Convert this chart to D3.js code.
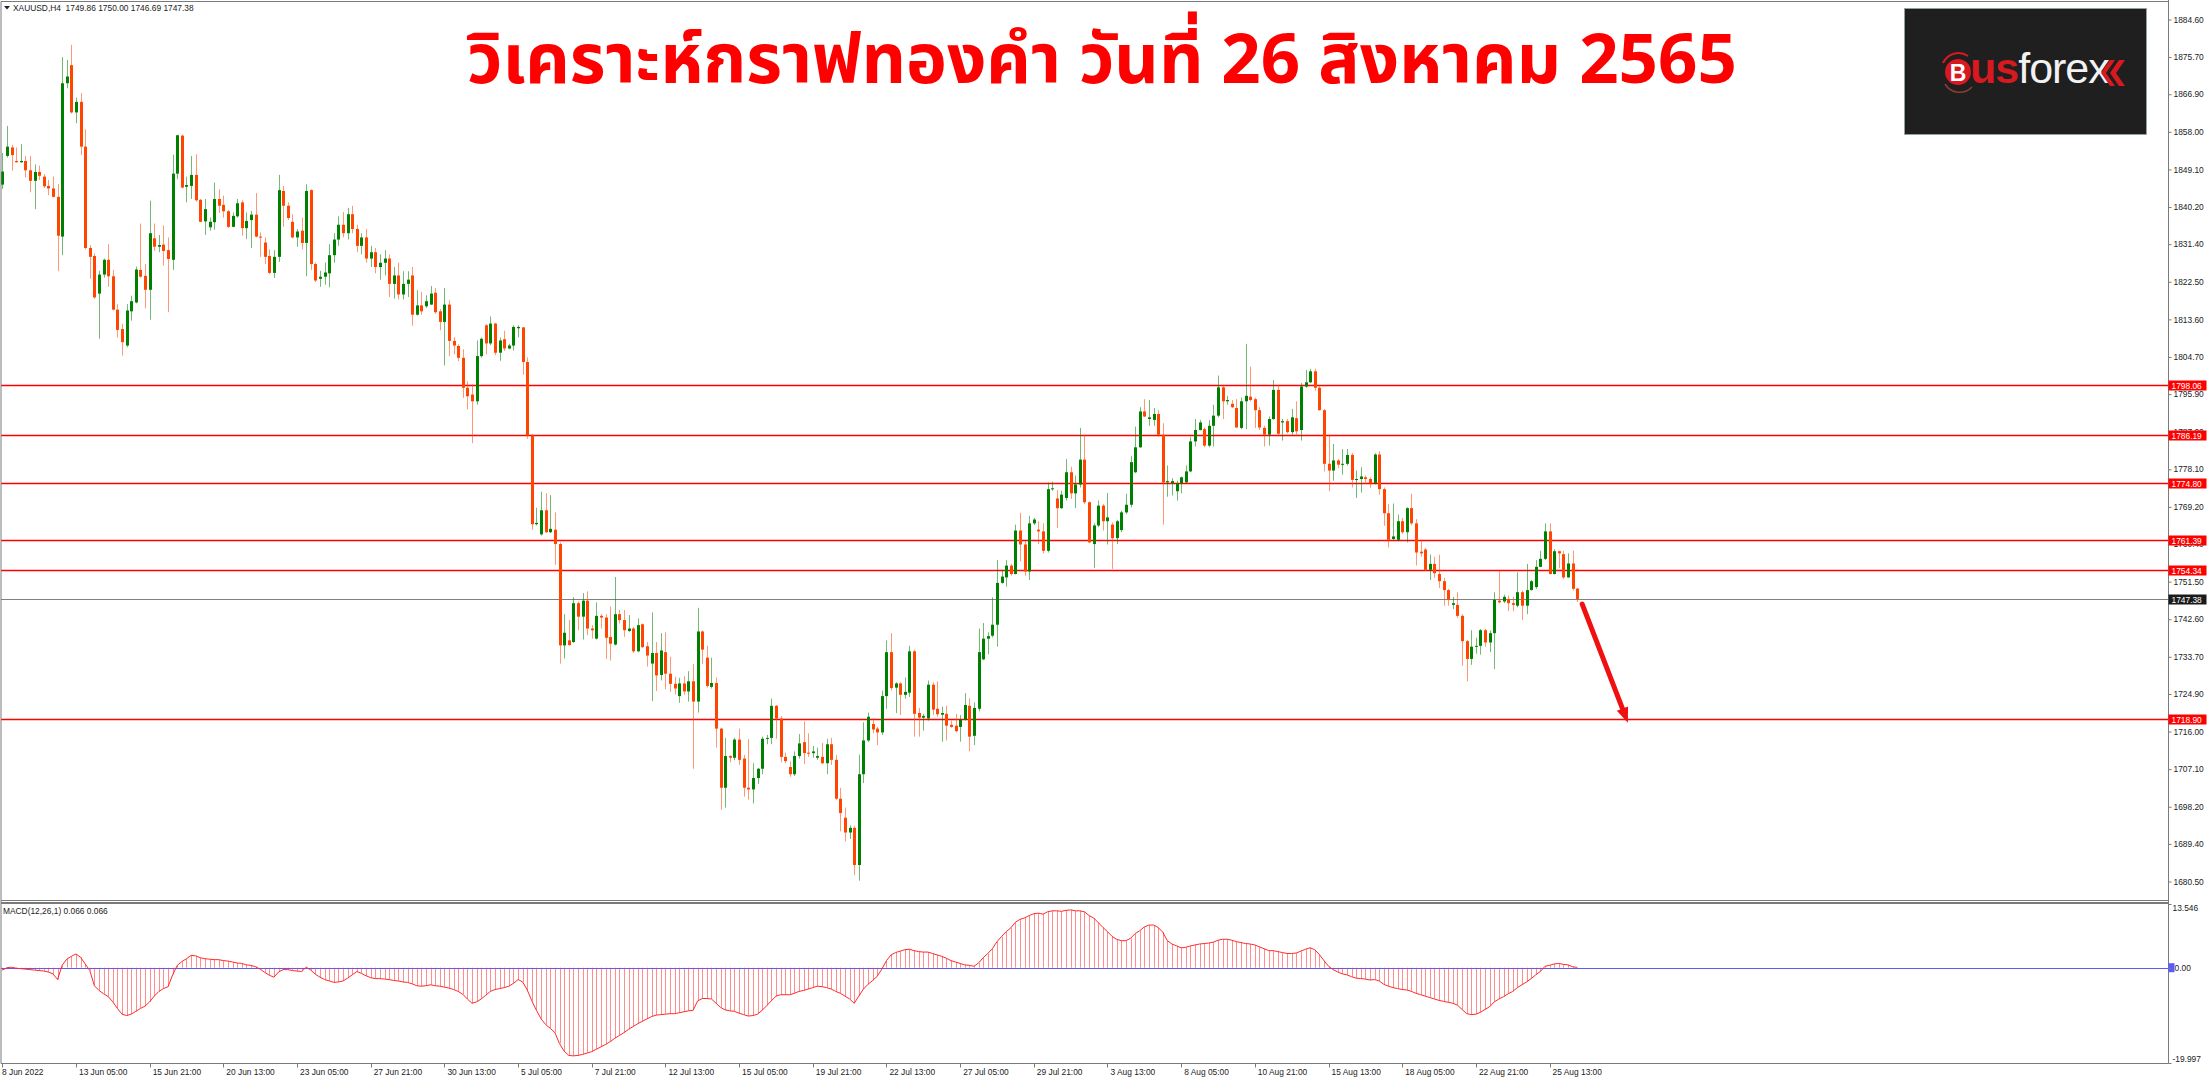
<!DOCTYPE html>
<html><head><meta charset="utf-8">
<script src="https://cdn.jsdelivr.net/npm/d3@7"></script>
<style>html,body{margin:0;padding:0;background:#fff;overflow:hidden}</style>
</head><body>
<svg id="chart" width="2209" height="1080" xmlns="http://www.w3.org/2000/svg"></svg>
<script>
// ---------- DATA ----------
const symbolHeader = "XAUUSD,H4  1749.86 1750.00 1746.69 1747.38";
const titleText = "วิเคราะห์กราฟทองคำ วันที่ 26 สิงหาคม 2565";
const macdHeader = "MACD(12,26,1) 0.066 0.066";

// H4 candles [open, high, low, close], 8 Jun 2022 13:00 .. 26 Aug 2022
const candles = [
[1845.5,1853.0,1844.5,1848.6],[1852.3,1859.4,1851.9,1854.5],[1854.3,1854.9,1848.8,1852.5],[1851.1,1854.3,1850.7,1850.8],
[1850.8,1855.1,1850.7,1851.1],[1851.1,1852.3,1847.2,1848.9],[1848.9,1852.3,1843.7,1846.4],[1846.4,1850.3,1839.7,1848.5],
[1848.5,1850.0,1846.6,1847.6],[1847.4,1848.0,1844.7,1845.1],[1845.2,1846.6,1843.0,1844.6],[1844.6,1847.4,1842.5,1842.6],
[1842.6,1845.6,1825.0,1833.4],[1833.2,1875.7,1828.8,1869.5],[1869.5,1875.0,1868.3,1871.1],[1873.8,1878.6,1862.3,1862.6],
[1862.6,1866.1,1860.0,1865.1],[1865.1,1867.2,1852.5,1854.5],[1854.5,1858.6,1830.2,1830.5],[1830.5,1831.2,1823.2,1828.4],
[1828.6,1829.2,1818.5,1818.8],[1819.7,1825.1,1809.0,1824.2],[1824.2,1828.0,1823.5,1827.7],[1827.7,1831.4,1821.3,1823.8],
[1823.8,1825.3,1815.7,1815.9],[1815.9,1817.2,1809.3,1811.1],[1811.3,1812.5,1805.0,1808.2],[1807.4,1817.2,1807.0,1815.7],
[1815.5,1819.2,1813.3,1817.9],[1817.6,1826.1,1817.4,1825.4],[1825.3,1836.3,1823.5,1823.7],[1823.9,1826.7,1816.2,1820.6],
[1820.6,1841.7,1813.5,1834.0],[1832.8,1836.3,1829.8,1830.8],[1830.8,1833.6,1829.5,1831.2],[1831.3,1835.8,1826.3,1829.8],
[1830.0,1833.0,1815.3,1827.9],[1827.7,1852.6,1825.3,1848.1],[1848.1,1857.3,1846.8,1857.2],[1857.1,1857.4,1844.6,1844.8],
[1845.0,1847.4,1841.3,1845.4],[1845.2,1852.3,1842.1,1847.8],[1847.8,1852.7,1841.5,1841.8],[1841.9,1842.1,1836.6,1836.7],
[1836.8,1842.1,1833.6,1839.7],[1835.4,1837.7,1834.6,1836.7],[1836.6,1846.0,1834.8,1842.1],[1842.1,1844.4,1838.8,1840.5],
[1840.7,1842.9,1837.7,1839.2],[1839.2,1839.5,1835.2,1835.5],[1835.5,1838.9,1835.4,1838.1],[1838.0,1842.1,1837.7,1841.1],
[1841.3,1841.8,1833.4,1835.2],[1835.2,1838.9,1832.6,1836.9],[1837.1,1839.3,1830.5,1838.4],[1838.4,1843.5,1833.0,1833.2],
[1833.2,1834.2,1828.4,1833.0],[1831.8,1833.0,1826.7,1828.4],[1828.6,1830.2,1824.3,1824.6],[1824.6,1830.0,1823.4,1828.4],
[1828.4,1847.8,1827.2,1844.2],[1844.0,1845.2,1835.5,1840.5],[1840.5,1841.3,1837.1,1837.6],[1836.7,1838.5,1832.8,1833.0],
[1833.0,1835.0,1830.8,1834.4],[1834.6,1837.7,1830.2,1831.7],[1831.7,1845.6,1823.8,1844.0],[1844.2,1844.4,1825.3,1826.7],
[1826.7,1827.1,1822.4,1822.8],[1823.2,1825.1,1821.3,1823.7],[1823.7,1827.1,1821.8,1824.7],[1824.5,1831.4,1821.2,1828.8],
[1828.8,1834.0,1827.0,1832.5],[1832.5,1838.0,1831.0,1836.0],[1836.0,1839.0,1833.0,1834.0],[1834.0,1840.0,1832.5,1838.5],
[1838.5,1840.5,1834.0,1835.0],[1835.0,1836.0,1829.5,1831.0],[1831.0,1834.0,1829.0,1833.0],[1833.0,1835.0,1827.0,1828.0],
[1828.0,1831.0,1826.0,1829.5],[1829.5,1830.5,1824.5,1826.0],[1826.0,1829.0,1823.0,1827.0],[1827.0,1830.0,1824.0,1828.0],
[1828.0,1829.0,1818.9,1822.0],[1822.0,1826.0,1818.5,1824.0],[1824.0,1827.0,1818.3,1819.5],[1819.5,1825.0,1818.3,1822.0],
[1822.0,1825.0,1818.9,1823.0],[1824.0,1826.0,1812.1,1814.7],[1814.7,1820.5,1814.5,1816.9],[1816.9,1820.1,1814.7,1815.5],
[1816.7,1819.3,1816.3,1817.9],[1817.1,1821.5,1817.0,1819.7],[1819.9,1821.0,1814.9,1815.3],[1815.5,1816.1,1811.0,1813.0],
[1813.0,1821.0,1802.7,1817.1],[1817.1,1818.1,1804.9,1808.5],[1808.5,1809.4,1805.3,1807.4],[1807.3,1807.7,1803.7,1804.5],
[1804.5,1806.5,1795.0,1797.4],[1797.4,1798.9,1792.3,1795.4],[1795.8,1798.2,1784.3,1794.2],[1794.2,1808.6,1793.4,1804.9],
[1804.9,1809.3,1804.5,1809.0],[1812.2,1812.5,1805.3,1807.9],[1807.9,1814.3,1807.5,1812.6],[1812.6,1812.8,1805.1,1805.7],
[1805.7,1809.3,1803.8,1808.6],[1808.9,1810.9,1806.1,1806.7],[1806.7,1807.8,1806.5,1807.4],[1807.4,1812.2,1806.2,1811.8],
[1811.5,1812.2,1809.3,1811.8],[1811.7,1811.8,1800.5,1803.5],[1803.5,1804.6,1785.3,1786.1],[1786.1,1786.5,1763.8,1765.1],
[1765.1,1769.0,1764.8,1765.4],[1762.7,1772.8,1762.4,1768.4],[1768.4,1772.4,1763.0,1763.2],[1763.2,1772.0,1763.0,1764.0],
[1763.8,1767.9,1755.5,1760.4],[1760.4,1760.8,1732.1,1736.4],[1736.4,1743.8,1733.3,1739.4],[1737.6,1742.4,1736.3,1736.5],
[1737.2,1747.8,1737.0,1746.4],[1746.4,1746.8,1740.0,1743.2],[1743.2,1748.8,1737.8,1747.0],[1747.0,1749.2,1738.8,1740.4],
[1740.4,1741.2,1738.0,1740.0],[1738.0,1746.6,1737.8,1743.4],[1743.4,1743.8,1740.4,1743.0],[1743.0,1743.8,1733.2,1738.2],
[1738.4,1745.6,1732.8,1736.8],[1736.6,1752.6,1736.4,1743.8],[1743.8,1744.8,1741.6,1742.4],[1742.4,1744.8,1738.4,1740.0],
[1739.8,1743.6,1739.6,1740.4],[1740.4,1740.8,1734.6,1735.0],[1735.0,1742.8,1734.8,1741.2],[1741.4,1741.6,1735.8,1736.0],
[1736.2,1737.2,1731.4,1734.0],[1732.1,1744.2,1723.2,1734.6],[1734.6,1737.2,1725.6,1729.3],[1729.4,1739.3,1728.1,1735.2],
[1734.8,1739.5,1726.0,1729.7],[1729.7,1733.7,1725.4,1727.3],[1727.3,1729.0,1724.8,1726.2],[1724.4,1728.7,1722.8,1727.4],
[1727.4,1729.1,1724.7,1725.5],[1725.5,1730.3,1723.1,1727.9],[1727.9,1732.0,1707.2,1723.1],[1723.1,1745.3,1720.5,1739.7],
[1739.7,1739.9,1732.0,1735.4],[1733.5,1736.3,1726.4,1726.8],[1726.6,1733.5,1726.2,1727.5],[1727.5,1728.8,1712.2,1716.7],
[1716.7,1716.9,1697.5,1702.7],[1702.7,1714.5,1698.0,1710.2],[1710.2,1710.4,1708.7,1709.8],[1709.8,1714.5,1709.2,1714.1],
[1714.1,1716.7,1708.1,1709.3],[1709.6,1710.5,1700.6,1702.7],[1702.7,1714.2,1699.9,1702.3],[1702.3,1708.5,1699.0,1705.0],
[1705.0,1707.4,1703.6,1707.2],[1707.2,1714.8,1705.9,1714.3],[1714.3,1715.2,1713.0,1714.5],[1714.5,1723.8,1713.0,1722.1],
[1722.1,1722.3,1714.3,1719.1],[1719.1,1719.7,1708.7,1710.0],[1710.0,1711.0,1708.5,1709.0],[1707.6,1708.9,1705.3,1705.9],
[1705.9,1711.3,1705.5,1710.2],[1710.2,1715.4,1709.6,1713.2],[1713.5,1718.4,1708.3,1710.9],[1711.0,1715.6,1710.0,1710.9],
[1710.9,1712.6,1709.8,1711.3],[1709.8,1712.2,1709.3,1710.2],[1710.0,1713.3,1708.3,1708.5],[1708.5,1714.3,1705.9,1713.0],
[1713.0,1714.5,1708.1,1709.3],[1709.3,1710.5,1699.8,1700.1],[1700.1,1702.7,1692.4,1696.7],[1695.6,1698.0,1690.0,1692.1],
[1692.1,1693.8,1690.6,1693.2],[1693.2,1693.6,1682.0,1684.4],[1684.4,1710.5,1680.7,1705.9],[1705.9,1718.2,1703.8,1713.9],
[1713.9,1720.5,1713.5,1719.5],[1717.8,1719.1,1715.6,1716.5],[1716.7,1717.1,1712.8,1715.8],[1715.8,1725.7,1715.2,1724.4],
[1724.4,1737.6,1721.4,1734.8],[1734.8,1739.3,1725.7,1726.3],[1726.4,1727.7,1720.4,1727.4],[1727.4,1727.7,1719.9,1724.7],
[1724.7,1728.8,1723.8,1725.4],[1725.2,1736.3,1724.2,1735.0],[1735.0,1735.4,1714.8,1720.2],[1720.4,1721.6,1714.8,1719.3],
[1719.3,1720.2,1716.2,1719.7],[1719.1,1728.1,1718.6,1727.1],[1727.1,1727.7,1719.9,1721.2],[1721.4,1727.9,1719.5,1720.1],
[1720.0,1721.9,1713.6,1720.4],[1720.2,1722.1,1713.9,1717.4],[1717.6,1718.6,1716.9,1717.1],[1717.4,1720.2,1715.8,1716.1],
[1717.1,1719.9,1713.6,1718.8],[1718.8,1725.1,1718.6,1722.3],[1722.1,1723.8,1711.3,1714.8],[1715.0,1722.9,1712.8,1721.6],
[1721.4,1740.4,1720.8,1734.8],[1733.1,1741.7,1732.9,1738.0],[1738.0,1739.5,1734.3,1738.6],[1738.7,1747.8,1738.3,1741.3],
[1741.3,1756.6,1736.1,1751.2],[1751.2,1754.3,1751.0,1752.7],[1752.5,1756.6,1750.3,1755.3],[1755.3,1755.7,1752.9,1753.3],
[1753.3,1765.0,1753.2,1763.6],[1763.6,1767.8,1756.3,1760.3],[1760.3,1761.2,1752.9,1753.9],[1753.9,1767.1,1751.9,1765.3],
[1765.3,1766.6,1764.9,1766.2],[1763.8,1765.8,1760.4,1763.4],[1763.4,1765.3,1758.2,1758.8],[1758.8,1775.0,1758.4,1773.4],
[1773.4,1775.2,1773.0,1773.6],[1771.2,1773.2,1764.2,1768.9],[1768.9,1773.0,1768.7,1772.1],[1771.3,1780.5,1770.7,1777.4],
[1777.4,1778.7,1771.1,1772.4],[1772.4,1776.6,1768.9,1774.5],[1774.5,1787.9,1773.8,1780.4],[1780.4,1786.1,1769.9,1770.3],
[1770.3,1770.5,1760.6,1760.8],[1760.4,1765.3,1754.7,1764.8],[1764.8,1770.7,1764.4,1769.5],[1769.5,1769.9,1763.6,1765.8],
[1765.8,1772.5,1760.3,1766.7],[1765.0,1765.5,1754.5,1761.8],[1761.8,1766.1,1760.4,1765.8],[1763.7,1768.3,1763.2,1767.9],
[1767.9,1772.3,1767.5,1769.7],[1769.7,1781.3,1769.1,1779.8],[1777.4,1788.2,1777.2,1783.3],[1783.3,1792.8,1783.2,1791.8],
[1791.8,1794.7,1790.4,1790.6],[1790.0,1794.5,1788.4,1790.4],[1789.8,1792.6,1788.4,1791.2],[1791.2,1792.1,1785.8,1786.3],
[1786.3,1789.0,1765.0,1775.0],[1775.0,1779.0,1771.6,1775.3],[1774.8,1776.0,1771.9,1775.3],[1772.9,1775.4,1770.7,1774.8],
[1774.8,1776.4,1772.4,1776.2],[1775.0,1779.0,1774.8,1777.6],[1777.6,1785.8,1777.4,1784.7],[1784.7,1790.0,1783.5,1787.4],
[1787.4,1789.8,1787.3,1789.2],[1787.6,1788.0,1783.3,1783.7],[1783.7,1789.8,1783.3,1788.4],[1788.4,1793.4,1783.5,1790.8],
[1790.8,1800.3,1790.4,1797.5],[1797.5,1797.9,1790.0,1794.2],[1794.2,1795.5,1793.4,1794.5],[1793.6,1794.5,1792.6,1792.8],
[1792.6,1794.7,1787.9,1788.0],[1787.9,1795.1,1787.6,1794.2],[1794.2,1807.8,1787.6,1795.5],[1795.3,1802.4,1794.2,1794.5],
[1794.7,1795.1,1787.9,1792.1],[1792.1,1792.8,1787.4,1788.0],[1787.9,1788.4,1783.5,1786.3],[1786.3,1790.6,1783.7,1790.0],
[1790.0,1799.2,1789.8,1796.9],[1796.9,1797.9,1786.3,1786.5],[1789.2,1790.0,1784.9,1789.5],[1789.5,1790.0,1786.6,1786.9],
[1786.9,1792.4,1786.3,1790.4],[1790.2,1794.2,1786.3,1787.1],[1787.4,1798.5,1784.9,1797.7],[1797.7,1801.6,1797.4,1798.7],
[1798.7,1801.9,1798.5,1801.3],[1801.3,1801.9,1796.7,1797.4],[1797.4,1797.9,1792.0,1792.1],[1792.1,1792.4,1777.6,1779.4],
[1779.4,1786.1,1772.9,1777.8],[1777.8,1784.1,1775.4,1780.2],[1780.2,1780.5,1778.4,1779.2],[1779.2,1782.9,1776.8,1779.4],
[1779.4,1782.9,1779.0,1781.5],[1781.5,1781.9,1773.8,1775.6],[1775.6,1777.8,1771.3,1775.8],[1775.8,1778.6,1772.6,1776.4],
[1776.2,1776.6,1774.6,1775.8],[1775.8,1776.2,1773.7,1774.8],[1774.8,1781.9,1774.5,1781.6],[1781.6,1782.4,1772.1,1773.4],
[1773.4,1773.8,1764.7,1767.7],[1767.7,1769.9,1759.6,1761.4],[1761.6,1770.0,1761.4,1762.2],[1761.4,1767.4,1761.0,1765.8],
[1765.8,1766.6,1762.8,1763.2],[1763.2,1769.1,1760.8,1768.9],[1768.9,1772.3,1764.8,1765.3],[1765.3,1766.3,1755.3,1758.4],
[1758.6,1761.2,1757.4,1758.2],[1759.1,1759.5,1754.0,1754.3],[1754.3,1757.9,1751.9,1755.7],[1755.7,1757.4,1752.4,1753.5],
[1753.3,1757.9,1750.0,1751.6],[1751.6,1752.4,1745.8,1749.5],[1749.5,1749.8,1745.8,1747.2],[1746.0,1747.9,1745.0,1746.4],
[1746.0,1749.0,1742.9,1743.4],[1743.4,1743.8,1731.6,1737.4],[1737.4,1737.7,1727.9,1733.2],[1733.2,1740.0,1731.8,1736.1],
[1736.1,1738.2,1734.4,1736.3],[1736.3,1740.3,1734.2,1740.0],[1740.0,1740.3,1736.1,1737.1],[1737.1,1739.9,1734.8,1739.3],
[1739.3,1749.0,1730.8,1747.2],[1747.0,1754.1,1746.4,1746.6],[1746.8,1748.4,1746.4,1747.9],[1747.4,1748.2,1744.5,1746.4],
[1746.4,1747.9,1744.5,1746.0],[1745.8,1753.7,1745.4,1749.0],[1749.0,1749.4,1742.4,1745.8],[1745.8,1755.7,1743.8,1749.5],
[1749.5,1751.9,1749.4,1751.6],[1750.2,1756.6,1749.8,1755.0],[1755.0,1758.8,1754.9,1756.9],[1756.9,1765.3,1756.6,1763.4],
[1763.4,1765.3,1753.2,1753.3],[1753.3,1759.2,1753.2,1758.7],[1758.7,1758.8,1754.7,1758.2],[1758.0,1758.8,1752.1,1752.5],
[1752.5,1758.2,1752.4,1755.8],[1755.8,1758.8,1749.4,1749.8],[1749.86,1750.00,1746.69,1747.38]
];

// MACD(12,26,1) main value per bar
const macd = [
-0.5,0.0,0.1,-0.1,-0.2,-0.3,-0.4,-0.5,-0.6,-0.7,-0.9,-1.3,-2.5,0.5,1.8,2.4,2.9,2.2,0.8,-0.6,
-3.8,-4.8,-5.5,-6.1,-7.2,-8.6,-9.8,-10.1,-9.8,-9.2,-8.6,-8.1,-7.2,-6.0,-5.0,-4.4,-4.0,-1.5,0.5,1.3,
1.9,2.6,2.5,2.1,1.9,1.8,1.7,1.7,1.5,1.4,1.2,1.0,0.9,0.6,0.5,0.2,-0.3,-1.0,-1.6,-2.0,
-0.9,-0.4,-0.4,-0.6,-0.7,-0.8,0.1,-0.5,-1.4,-2.0,-2.5,-2.8,-3.1,-3.0,-2.8,-2.2,-1.5,-0.8,-1.2,-1.7,
-2.1,-2.3,-2.3,-2.4,-2.5,-2.7,-2.8,-3.0,-3.1,-3.4,-3.8,-3.9,-3.8,-3.6,-3.8,-3.9,-4.1,-4.3,-4.6,-5.0,
-5.6,-6.6,-7.5,-7.2,-6.6,-5.8,-5.0,-4.6,-4.4,-4.2,-3.9,-3.3,-2.5,-3.0,-4.7,-7.0,-9.0,-10.8,-12.0,-12.8,
-13.7,-16.0,-17.6,-18.5,-18.6,-18.5,-18.3,-18.0,-17.7,-17.2,-16.7,-16.2,-15.6,-14.9,-14.3,-13.7,-13.0,-12.4,-11.8,-11.3,
-10.8,-10.3,-10.0,-9.9,-9.8,-9.7,-9.7,-9.5,-9.3,-9.1,-9.0,-7.0,-6.5,-6.5,-6.6,-7.5,-8.4,-8.9,-9.1,-9.2,
-9.6,-9.9,-10.2,-10.1,-9.8,-9.0,-8.0,-7.0,-6.0,-5.7,-5.7,-5.7,-5.4,-5.0,-4.8,-4.5,-4.2,-3.9,-4.0,-4.2,
-4.5,-5.0,-5.4,-6.0,-6.6,-7.5,-6.0,-4.5,-3.5,-2.7,-1.8,-0.3,1.5,2.7,3.2,3.5,3.8,3.9,3.6,3.4,
3.3,3.3,3.0,2.7,2.4,2.0,1.5,1.2,0.9,0.6,0.5,0.3,1.0,2.1,3.0,4.0,5.5,6.6,7.6,8.4,
9.6,10.2,10.5,11.0,11.4,11.5,11.3,11.8,12.0,12.0,11.9,12.1,12.2,12.0,12.0,11.8,11.0,10.5,9.5,8.5,
7.6,6.6,6.0,5.7,5.7,6.2,7.2,7.8,8.6,9.0,9.0,8.5,7.5,5.7,5.0,4.6,4.2,4.3,4.6,4.8,
5.0,5.1,5.2,5.4,5.8,6.0,6.0,5.8,5.5,5.3,5.1,5.0,4.8,4.4,4.0,3.6,3.6,3.4,3.2,3.0,
3.0,3.1,3.5,3.9,4.2,3.8,2.8,1.5,0.3,-0.4,-0.9,-1.3,-1.5,-1.9,-2.2,-2.3,-2.4,-2.6,-2.5,-2.8,
-3.5,-3.9,-4.2,-4.4,-4.6,-4.7,-5.0,-5.4,-5.7,-6.0,-6.3,-6.6,-6.9,-7.1,-7.3,-7.5,-7.9,-8.8,-9.7,-9.9,
-9.8,-9.4,-8.8,-8.2,-7.2,-6.6,-6.1,-5.5,-5.0,-4.2,-3.6,-3.0,-2.3,-1.5,-0.8,0.3,0.5,0.8,0.9,0.7,
0.6,0.2,0.066
];

const timeLabels = ["8 Jun 2022","13 Jun 05:00","15 Jun 21:00","20 Jun 13:00","23 Jun 05:00","27 Jun 21:00",
  "30 Jun 13:00","5 Jul 05:00","7 Jul 21:00","12 Jul 13:00","15 Jul 05:00","19 Jul 21:00","22 Jul 13:00",
  "27 Jul 05:00","29 Jul 21:00","3 Aug 13:00","8 Aug 05:00","10 Aug 21:00","15 Aug 13:00","18 Aug 05:00",
  "22 Aug 21:00","25 Aug 13:00"];
const timeLabelBars = [0,16,32,48,64,80,96,112,128,144,160,176,192,208,224,240,256,272,288,304,320,336];

const priceTicks = [1884.60,1875.70,1866.90,1858.00,1849.10,1840.20,1831.40,1822.50,1813.60,1804.70,1795.90,
  1787.00,1778.10,1769.20,1760.40,1751.50,1742.60,1733.70,1724.90,1716.00,1707.10,1698.20,1689.40,1680.50];
const levels = [1798.06,1786.19,1774.80,1761.39,1754.34,1718.90];
const bidPrice = 1747.38;
const macdTicks = [13.546, 0, -19.997];
const macdTickLabels = ["13.546","0.00","-19.997"];
const arrowTarget = 1718.90;

// ---------- LAYOUT ----------
const svg = d3.select("#chart");
const plotL = 1, plotR = 2168.5;
const mainTop = 1.5, mainBot = 900.5, macdTop = 903.5, macdBot = 1063.5;
const FONT = "'Liberation Sans', Arial, sans-serif";
const gridCol = "#7a7a7a";

const x = d3.scaleLinear().domain([0, candles.length - 1]).range([2.3, 1577.2]);
const y = d3.scaleLinear().domain([1680.5, 1884.6]).range([881.5, 19.5]);
const ym = d3.scaleLinear().domain([-19.997, 13.546]).range([1062.5, 903.5]);

svg.append("rect").attr("width", 2209).attr("height", 1080).attr("fill", "#fff");

const defs = svg.append("defs");
defs.append("clipPath").attr("id", "clipMain").append("rect")
  .attr("x", plotL).attr("y", mainTop).attr("width", plotR - plotL).attr("height", mainBot - mainTop);
defs.append("clipPath").attr("id", "clipMacd").append("rect")
  .attr("x", plotL).attr("y", macdTop).attr("width", plotR - plotL).attr("height", macdBot - macdTop);

// Logo box
const logo = svg.append("g");
logo.append("rect").attr("x", 1904.5).attr("y", 8.5).attr("width", 242).attr("height", 126)
  .attr("fill", "#1f1f1f").attr("stroke", "#8fa89a").attr("stroke-width", 0.8);
logo.append("circle").attr("cx", 1958).attr("cy", 72).attr("r", 13).attr("fill", "#d71920");
logo.append("path").attr("d", "M1943,63 A17,17 0 0 1 1968,56").attr("fill", "none").attr("stroke", "#d71920").attr("stroke-width", 2);
logo.append("path").attr("d", "M1945,84 A17,17 0 0 0 1972,87").attr("fill", "none").attr("stroke", "#8a4030").attr("stroke-width", 1.5);
logo.append("text").attr("x", 1958).attr("y", 80.5).attr("text-anchor", "middle")
  .attr("font-family", FONT).attr("font-weight", "bold").attr("font-size", 23).attr("fill", "#fff").text("B");
logo.append("text").attr("x", 1970).attr("y", 83).attr("font-family", FONT).attr("font-size", 43)
  .attr("font-weight", "bold").attr("letter-spacing", -1)
  .selectAll("tspan").data([["us", "#d71920", "bold"], ["forex", "#f2f2f2", "normal"]]).join("tspan")
  .attr("fill", d => d[1]).attr("font-weight", d => d[2]).text(d => d[0]);
logo.append("path").attr("d", "M2110,60 L2101,73 L2110,86 L2115,86 L2106,73 L2115,60 Z M2119,60 L2110,73 L2119,86 L2125,86 L2116,73 L2125,60 Z")
  .attr("fill", "#d71920");

// Horizontal level lines (main pane)
const gMain = svg.append("g").attr("clip-path", "url(#clipMain)");
gMain.selectAll("line.level").data(levels).join("line").attr("class", "level")
  .attr("x1", plotL).attr("x2", plotR).attr("y1", d => Math.round(y(d)) + 0.5).attr("y2", d => Math.round(y(d)) + 0.5)
  .attr("stroke", "#ff0000").attr("stroke-width", 1.3);
gMain.append("line").attr("x1", plotL).attr("x2", plotR)
  .attr("y1", Math.round(y(bidPrice)) + 0.5).attr("y2", Math.round(y(bidPrice)) + 0.5)
  .attr("stroke", "#808080").attr("stroke-width", 1.2);

// Candles
const upCol = "#008000", dnCol = "#ff4500";
const cg = gMain.selectAll("g.candle").data(candles).join("g").attr("class", "candle");
cg.append("line")
  .attr("x1", (d, i) => Math.round(x(i)) + 0.5).attr("x2", (d, i) => Math.round(x(i)) + 0.5)
  .attr("y1", d => y(d[1])).attr("y2", d => y(d[2]))
  .attr("stroke", d => d[3] >= d[0] ? upCol : dnCol).attr("stroke-opacity", 0.55).attr("stroke-width", 1);
cg.append("rect")
  .attr("x", (d, i) => Math.round(x(i)) - 1).attr("width", 3)
  .attr("y", d => y(Math.max(d[0], d[3])))
  .attr("height", d => Math.max(1, Math.abs(y(d[0]) - y(d[3]))))
  .attr("fill", d => d[3] >= d[0] ? upCol : dnCol);

// Arrow annotation
const last = candles.length - 1;
const ax0 = x(last) + 5, ay0 = y(candles[last][3]) + 5;
const ax1 = x(last + 11), ay1 = y(arrowTarget - 0.8);
const ang = Math.atan2(ay1 - ay0, ax1 - ax0);
const hl = 15, hw = 6;
const bx = ax1 - hl * Math.cos(ang), by = ay1 - hl * Math.sin(ang);
svg.append("line").attr("x1", ax0).attr("y1", ay0).attr("x2", bx).attr("y2", by)
  .attr("stroke", "#f01010").attr("stroke-width", 5).attr("stroke-linecap", "round");
svg.append("path").attr("d", `M${ax1},${ay1} L${bx + hw * Math.sin(ang)},${by - hw * Math.cos(ang)} L${bx - hw * Math.sin(ang)},${by + hw * Math.cos(ang)} Z`)
  .attr("fill", "#f01010");

// MACD pane
const gM = svg.append("g").attr("clip-path", "url(#clipMacd)");
gM.append("line").attr("x1", plotL).attr("x2", plotR).attr("y1", Math.round(ym(0)) + 0.5).attr("y2", Math.round(ym(0)) + 0.5)
  .attr("stroke", "#5a5aff").attr("stroke-width", 1.2);
gM.selectAll("line.hist").data(macd).join("line").attr("class", "hist")
  .attr("x1", (d, i) => Math.round(x(i)) + 0.5).attr("x2", (d, i) => Math.round(x(i)) + 0.5)
  .attr("y1", ym(0)).attr("y2", d => ym(d))
  .attr("stroke", "#ff3030").attr("stroke-opacity", 0.55).attr("stroke-width", 1);
gM.append("path").datum(macd)
  .attr("d", d3.line().x((d, i) => x(i)).y(d => ym(d)))
  .attr("fill", "none").attr("stroke", "#ff2a2a").attr("stroke-width", 1);

// Frames
const frame = svg.append("g").attr("stroke", gridCol).attr("fill", "none").attr("stroke-width", 1);
frame.append("line").attr("x1", plotL).attr("x2", plotL).attr("y1", mainTop).attr("y2", macdBot);
frame.append("line").attr("x1", plotL).attr("x2", plotR).attr("y1", mainTop).attr("y2", mainTop);
frame.append("line").attr("x1", plotR).attr("x2", plotR).attr("y1", 0).attr("y2", macdBot);
frame.append("line").attr("x1", plotL).attr("x2", plotR).attr("y1", mainBot).attr("y2", mainBot);
frame.append("line").attr("x1", plotL).attr("x2", plotR).attr("y1", macdTop - 1).attr("y2", macdTop - 1);
frame.append("line").attr("x1", plotL).attr("x2", plotR).attr("y1", macdTop).attr("y2", macdTop);
frame.append("line").attr("x1", plotL).attr("x2", plotR).attr("y1", macdBot).attr("y2", macdBot);

// Price axis
const yAxis = d3.axisRight(y).tickValues(priceTicks).tickSize(3).tickPadding(2).tickFormat(d3.format(".2f"));
const gy = svg.append("g").attr("transform", `translate(${plotR},0)`).call(yAxis);
gy.select(".domain").remove();
gy.selectAll(".tick line").attr("stroke", gridCol);
gy.selectAll(".tick text").attr("font-family", FONT).attr("font-size", 8.4).attr("fill", "#222");

// Level tags on price axis
const tagW = 38, tagH = 10;
const tags = svg.selectAll("g.tag").data(levels.map(v => ({v, bg: "#ff0000"})).concat([{v: bidPrice, bg: "#1a1a1a"}]))
  .join("g").attr("class", "tag").attr("transform", d => `translate(${plotR},${Math.round(y(d.v)) + 0.5})`);
tags.append("rect").attr("x", 0).attr("y", -tagH / 2).attr("width", tagW).attr("height", tagH).attr("fill", d => d.bg);
tags.append("text").attr("x", 3).attr("y", 3.2).attr("font-family", FONT).attr("font-size", 8.4)
  .attr("fill", "#fff").text(d => d.v.toFixed(2));

// MACD axis
const gmy = svg.append("g").attr("transform", `translate(${plotR},0)`);
gmy.selectAll("text").data(macdTicks).join("text")
  .attr("x", (d, i) => i === 1 ? 6 : 4).attr("y", (d, i) => i === 0 ? ym(d) + 7 : (i === 2 ? ym(d) - 1 : ym(d) + 3))
  .attr("font-family", FONT).attr("font-size", 8.4).attr("fill", "#222").text((d, i) => macdTickLabels[i]);
gmy.append("rect").attr("x", 0).attr("y", ym(0) - 4.5).attr("width", 6).attr("height", 9).attr("fill", "#5a5aff");
gmy.selectAll("line").data(macdTicks).join("line").attr("x1", 0).attr("x2", 3)
  .attr("y1", d => Math.round(ym(d)) + 0.5).attr("y2", d => Math.round(ym(d)) + 0.5).attr("stroke", gridCol);

// Time axis
const tg = svg.append("g");
tg.selectAll("line").data(timeLabelBars).join("line")
  .attr("x1", d => Math.round(x(d)) + 0.5).attr("x2", d => Math.round(x(d)) + 0.5)
  .attr("y1", macdBot).attr("y2", macdBot + 4).attr("stroke", gridCol);
tg.selectAll("text").data(timeLabelBars).join("text")
  .attr("x", (d, i) => i === 0 ? 2 : x(d) + 3).attr("y", 1075)
  .attr("font-family", FONT).attr("font-size", 8.4).attr("fill", "#222").text((d, i) => timeLabels[i]);

// Headers
svg.append("path").attr("d", "M4,6 L10,6 L7,9.5 Z").attr("fill", "#222");
svg.append("text").attr("x", 13).attr("y", 10.5).attr("font-family", FONT).attr("font-size", 8.4)
  .attr("fill", "#222").attr("xml:space", "preserve").style("white-space", "pre").text(symbolHeader);
svg.append("text").attr("x", 3).attr("y", 914).attr("font-family", FONT).attr("font-size", 8.4)
  .attr("fill", "#222").text(macdHeader);

// Title
svg.append("text").attr("x", 1102).attr("y", 83).attr("text-anchor", "middle")
  .attr("font-family", "'Noto Sans Thai','Noto Sans Thai UI','Loma','Garuda','Tlwg Typo','Noto Sans','DejaVu Sans',sans-serif")
  .attr("font-weight", "bold").attr("font-size", 69).attr("fill", "#ff0000").text(titleText);
</script>
</body></html>
